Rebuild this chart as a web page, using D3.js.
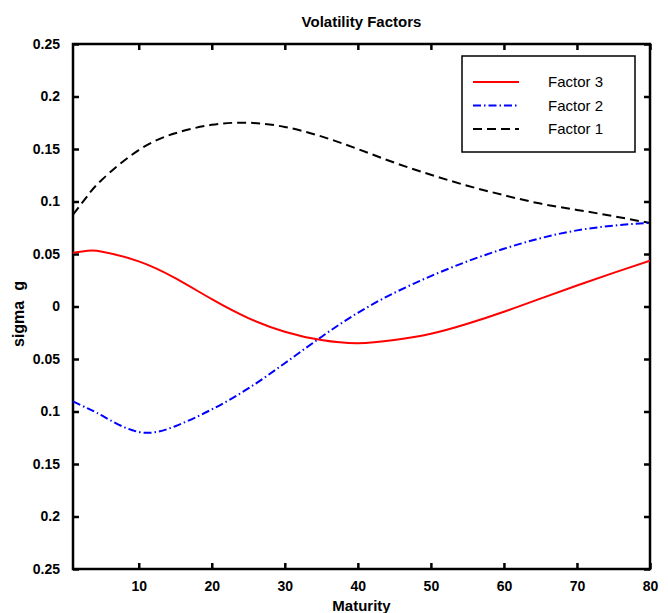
<!DOCTYPE html>
<html>
<head>
<meta charset="utf-8">
<script src="https://cdn.jsdelivr.net/npm/d3@7"></script>
<style>
  body { margin: 0; background: #fff; }
  text { font-family: "Liberation Sans", Arial, Helvetica, sans-serif; }
</style>
</head>
<body>
<div id="canvas"></div>
<script>
var margin = {top: 44, right: 18, bottom: 44, left: 73},
width = 668 - margin.left - margin.right,
height = 613 - margin.top - margin.bottom;

// values
const maturity = [1, 3, 5, 10, 15, 20, 25, 30, 35, 40, 45, 50, 55, 60, 65, 70, 75, 80]
const factor1 = [0.0875, 0.1055, 0.121, 0.149, 0.165, 0.173, 0.175, 0.171, 0.162, 0.150, 0.137, 0.1255, 0.115, 0.106, 0.098, 0.092, 0.086, 0.0795]
const factor2 = [-0.0903, -0.097, -0.104, -0.1195, -0.114, -0.098, -0.078, -0.054, -0.029, -0.006, 0.013, 0.029, 0.043, 0.055, 0.065, 0.0725, 0.077, 0.0798]
const factor3 = [0.0513, 0.053, 0.0522, 0.043, 0.027, 0.007, -0.011, -0.024, -0.032, -0.035, -0.032, -0.026, -0.0165, -0.005, 0.0075, 0.020, 0.032, 0.0437]

const xTicks = [10, 20, 30, 40, 50, 60, 70, 80]
const yTicks = [0.25, 0.2, 0.15, 0.1, 0.05, 0, -0.05, -0.1, -0.15, -0.2, -0.25]
const yTickLabels = ["0.25", "0.2", "0.15", "0.1", "0.05", "0", "0.05", "0.1", "0.15", "0.2", "0.25"]

const seriesNames = ["Factor 3", "Factor 2", "Factor 1"]
const seriesData = [factor3, factor2, factor1]
const seriesColor = ["#ff0000", "#0000ff", "#000000"]
const seriesDash = ["none", "8,3,1.5,3", "9,5"]

const svg = d3.select("#canvas")
    .append("svg")
        .attr("width", 668)
        .attr("height", 613)
        .style("background-color", "white")

const canvas = svg.append("g")
    .attr("transform", "translate(" + margin.left + "," + margin.top + ")")

const xScale = d3.scaleLinear()
    .domain([1, 80])
    .range([0, width])

const yScale = d3.scaleLinear()
    .domain([-0.25, 0.25])
    .range([height, 0])

// axes, ticks point inward like matlab
canvas.append("g")
    .attr("transform", "translate(0," + height + ")")
    .call(d3.axisBottom(xScale).tickValues(xTicks).tickSize(-6).tickPadding(12).tickFormat(d3.format("d")))

canvas.append("g")
    .call(d3.axisTop(xScale).tickValues(xTicks).tickSize(-6).tickFormat(""))

canvas.append("g")
    .call(d3.axisLeft(yScale).tickValues(yTicks).tickSize(-6).tickPadding(13)
        .tickFormat((d, i) => yTickLabels[i]))

canvas.append("g")
    .attr("transform", "translate(" + width + ",0)")
    .call(d3.axisRight(yScale).tickValues(yTicks).tickSize(-6).tickFormat(""))

canvas.selectAll(".domain").remove()
canvas.selectAll(".tick line").attr("stroke", "black").attr("stroke-width", 2.5)
canvas.selectAll(".tick text")
    .style("font-size", "14px")
    .style("font-weight", "bold")
    .attr("fill", "black")

canvas.append("rect")
    .attr("x", 0)
    .attr("y", 0)
    .attr("width", width)
    .attr("height", height)
    .attr("fill", "none")
    .attr("stroke", "black")
    .attr("stroke-width", 2.5)

canvas.append("clipPath")
    .attr("id", "clip")
    .append("rect")
        .attr("width", width)
        .attr("height", height)

const line = d3.line()
    .x((d, i) => xScale(maturity[i]))
    .y(d => yScale(d))
    .curve(d3.curveNatural)

// draw factor 1 first so red ends up on top
canvas.append("g")
    .attr("clip-path", "url(#clip)")
    .selectAll("path")
    .data([2, 1, 0])
    .join("path")
        .attr("d", k => line(seriesData[k]))
        .attr("fill", "none")
        .attr("stroke", k => seriesColor[k])
        .attr("stroke-width", 2)
        .attr("stroke-dasharray", k => seriesDash[k])

// legend
const legend = canvas.append("g")
    .attr("transform", "translate(" + (462 - margin.left) + "," + (56 - margin.top) + ")")

legend.append("rect")
    .attr("width", 173)
    .attr("height", 96)
    .attr("fill", "white")
    .attr("stroke", "black")
    .attr("stroke-width", 1.5)

const rows = legend.selectAll(".row")
    .data(seriesNames)
    .join("g")
        .attr("class", "row")
        .attr("transform", (d, i) => "translate(0," + (26 + i * 23.5) + ")")

rows.append("line")
    .attr("x1", 11)
    .attr("x2", 57)
    .attr("stroke", (d, i) => seriesColor[i])
    .attr("stroke-width", 2)
    .attr("stroke-dasharray", (d, i) => seriesDash[i])

rows.append("text")
    .attr("x", 86)
    .attr("y", 5)
    .style("font-size", "15px")
    .text(d => d)

// titles
svg.append("text")
    .attr("x", margin.left + width / 2)
    .attr("y", 27)
    .attr("text-anchor", "middle")
    .style("font-size", "15px")
    .style("font-weight", "bold")
    .text("Volatility Factors")

svg.append("text")
    .attr("x", margin.left + width / 2)
    .attr("y", 611)
    .attr("text-anchor", "middle")
    .style("font-size", "15px")
    .style("font-weight", "bold")
    .text("Maturity")

const ylab = svg.append("text")
    .attr("transform", "translate(24,347) rotate(-90)")
    .style("font-size", "16px")
    .style("font-weight", "bold")

ylab.append("tspan").text("sigma")
ylab.append("tspan").attr("dx", 10).text("g")
</script>
</body>
</html>
